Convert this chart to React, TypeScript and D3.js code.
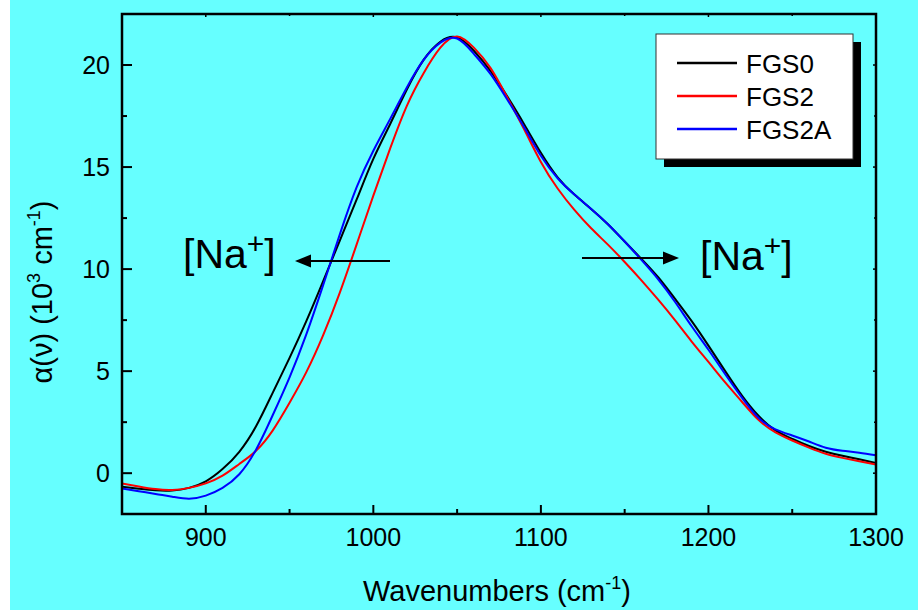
import React from "react";
import * as d3 from "d3";

const wavenumbers = [850, 860, 870, 880, 890, 900, 910, 920, 930, 940, 950, 960, 970, 980, 990, 1000, 1010, 1020, 1030, 1040, 1050, 1060, 1070, 1080, 1090, 1100, 1110, 1120, 1130, 1140, 1150, 1160, 1170, 1180, 1190, 1200, 1210, 1220, 1230, 1240, 1250, 1260, 1270, 1280, 1290, 1300];

const fgs0 = [-0.67, -0.76, -0.84, -0.85, -0.72, -0.4, 0.2, 1.05, 2.3, 3.95, 5.65, 7.45, 9.4, 11.4, 13.4, 15.4, 17.1, 18.8, 20.25, 21.14, 21.35, 20.7, 19.7, 18.45, 17.1, 15.7, 14.5, 13.65, 12.95, 12.2, 11.35, 10.5, 9.6, 8.55, 7.45, 6.25, 5.0, 3.8, 2.8, 2.1, 1.68, 1.33, 1.05, 0.85, 0.68, 0.5];

const fgs2 = [-0.5, -0.65, -0.78, -0.82, -0.72, -0.5, -0.12, 0.45, 1.1, 2.1, 3.45, 4.95, 6.75, 8.85, 11.2, 13.6, 15.9, 18.0, 19.6, 20.85, 21.4, 20.85, 19.85, 18.4, 16.85, 15.25, 13.95, 12.9, 12.0, 11.2, 10.35, 9.45, 8.5, 7.5, 6.45, 5.45, 4.45, 3.5, 2.6, 2.0, 1.6, 1.25, 0.95, 0.75, 0.58, 0.42];

const fgs2a = [-0.75, -0.88, -1.02, -1.15, -1.25, -1.1, -0.72, -0.05, 1.15, 2.85, 4.7, 6.8, 9.2, 11.7, 14.0, 15.8, 17.35, 18.9, 20.25, 21.1, 21.3, 20.55, 19.55, 18.3, 16.95, 15.55, 14.45, 13.65, 12.95, 12.2, 11.35, 10.45, 9.5, 8.4, 7.2, 6.05, 4.85, 3.7, 2.7, 2.15, 1.85, 1.55, 1.25, 1.1, 1.0, 0.88];

const seriesNames = ["FGS0", "FGS2", "FGS2A"];
const seriesColors = ["#000000", "#ff0000", "#0000ff"];
const xTicks = [900, 1000, 1100, 1200, 1300];
const xMinor = [850, 950, 1050, 1150, 1250];
const yTicks = [0, 5, 10, 15, 20];
const yMinor = [2.5, 7.5, 12.5, 17.5];

const W = 918;
const H = 610;
const left = 122, right = 876, top = 14, bottom = 514;
const FONT = "'Liberation Sans', Arial, sans-serif";

export default function App() {
  const x = d3.scaleLinear().domain([850, 1300]).range([left, right]);
  const y = d3.scaleLinear().domain([-2, 22.5]).range([bottom, top]);
  const all = [fgs0, fgs2, fgs2a];
  const line = d3
    .line<number>()
    .x((_, i) => x(wavenumbers[i]))
    .y((d) => y(d))
    .curve(d3.curveNatural);

  return (
    <svg width={W} height={H} style={{ position: "absolute", left: 0, top: 0 }} fontFamily={FONT}>
      <rect x={0} y={0} width={W} height={H} fill="#ffffff" />
      <rect x={10} y={0} width={W - 10} height={H} fill="#66ffff" />
      <defs>
        <clipPath id="plot">
          <rect x={left} y={top} width={right - left} height={bottom - top} />
        </clipPath>
      </defs>
      <g clipPath="url(#plot)">
        {all.map((s, k) => (
          <path key={k} d={line(s) || ""} fill="none" stroke={seriesColors[k]} strokeWidth={2} />
        ))}
      </g>
      <rect x={left} y={top} width={right - left} height={bottom - top} fill="none" stroke="#000" strokeWidth={2.5} />
      {xTicks.map((t) => (
        <g key={"xt" + t}>
          <line x1={x(t)} x2={x(t)} y1={bottom} y2={bottom - 9} stroke="#000" strokeWidth={2} />
          <line x1={x(t)} x2={x(t)} y1={top} y2={top + 3} stroke="#000" strokeWidth={1.5} />
          <text x={x(t)} y={546} textAnchor="middle" fontSize={25}>{t}</text>
        </g>
      ))}
      {xMinor.map((t) => (
        <g key={"xm" + t}>
          <line x1={x(t)} x2={x(t)} y1={bottom} y2={bottom - 5} stroke="#000" strokeWidth={2} />
          <line x1={x(t)} x2={x(t)} y1={top} y2={top + 2} stroke="#000" strokeWidth={1.5} />
        </g>
      ))}
      {yTicks.map((t) => (
        <g key={"yt" + t}>
          <line x1={left} x2={left + 10} y1={y(t)} y2={y(t)} stroke="#000" strokeWidth={2} />
          <line x1={right} x2={right - 3} y1={y(t)} y2={y(t)} stroke="#000" strokeWidth={1.5} />
          <text x={110} y={y(t) + 9} textAnchor="end" fontSize={25}>{t}</text>
        </g>
      ))}
      {yMinor.map((t) => (
        <g key={"ym" + t}>
          <line x1={left} x2={left + 5} y1={y(t)} y2={y(t)} stroke="#000" strokeWidth={2} />
          <line x1={right} x2={right - 2} y1={y(t)} y2={y(t)} stroke="#000" strokeWidth={1.5} />
        </g>
      ))}
      <text x={497} y={601} textAnchor="middle" fontSize={29}>
        Wavenumbers (cm<tspan dy={-12} fontSize={18}>-1</tspan><tspan dy={12}>)</tspan>
      </text>
      <text transform="translate(52,292) rotate(-90)" textAnchor="middle" fontSize={29}>
        α(ν) (10<tspan dy={-12} fontSize={18}>3</tspan><tspan dy={12}> cm</tspan><tspan dy={-12} fontSize={18}>-1</tspan><tspan dy={12}>)</tspan>
      </text>
      <text x={183} y={268} fontSize={41}>
        [Na<tspan dy={-14} fontSize={30}>+</tspan><tspan dy={14}>]</tspan>
      </text>
      <line x1={390} x2={305} y1={261} y2={261} stroke="#000" strokeWidth={2} />
      <polygon points="295,261 311,254.5 311,267.5" fill="#000" />
      <text x={700} y={270} fontSize={41}>
        [Na<tspan dy={-14} fontSize={30}>+</tspan><tspan dy={14}>]</tspan>
      </text>
      <line x1={582} x2={668} y1={258} y2={258} stroke="#000" strokeWidth={2} />
      <polygon points="679,258 663,251.5 663,264.5" fill="#000" />
      <rect x={664} y={42} width={197} height={125} fill="#000" />
      <rect x={656} y={34} width={197} height={125} fill="#fff" stroke="#333" strokeWidth={1} />
      {seriesNames.map((n, k) => (
        <g key={n}>
          <line x1={677} x2={737} y1={63 + k * 33} y2={63 + k * 33} stroke={seriesColors[k]} strokeWidth={2.5} />
          <text x={746} y={73 + k * 33} fontSize={26}>{n}</text>
        </g>
      ))}
    </svg>
  );
}
